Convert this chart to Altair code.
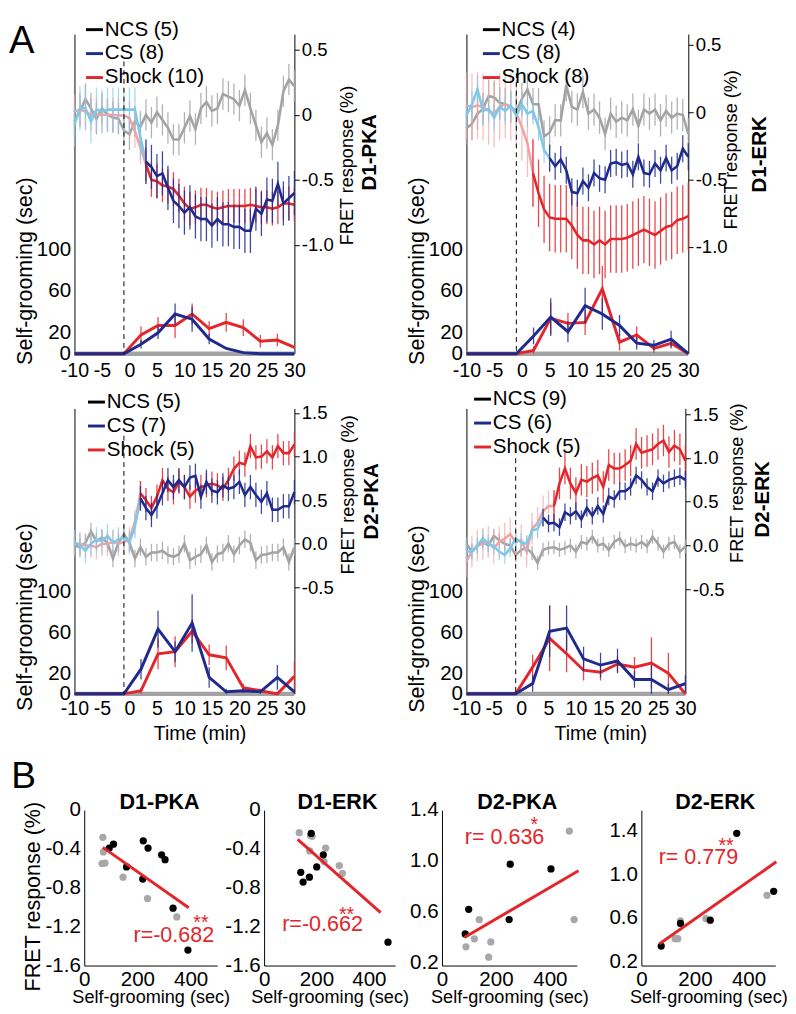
import altair as alt
import pandas as pd

FONT = "Liberation Sans"
GRAY = "#a3a3a3"
BLUE = "#1f2a8c"
RED = "#e3262b"
LBLUE = "#80c8ea"
PINK = "#f2a2a2"
DOT_GRAY = "#a8a8a8"

# ---------------- Panel A data ----------------
FRET_T = list(range(-10, 31))
SG_T = [-10, -5, -1, 2.1, 5.2, 8.3, 11.4, 14.5, 17.6, 20.7, 23.8, 26.9, 30]
STIM_T = -1
NCS_SG = [0, 0, 0, 0, 0, 0, 0, 0, 0, 0, 0, 0, 0]

D1PKA_NCS = [-0.05, 0.03, 0.12, 0.05, -0.03, 0.05, 0.0, -0.02, -0.03, -0.12, -0.15, -0.05, -0.09, 0.0,
             -0.06, 0.02, -0.04, -0.1, -0.19, -0.19, -0.1, -0.01, -0.11, 0.05, 0.1, 0.03, 0.05, 0.16,
             0.14, 0.12, 0.07, 0.19, 0.05, -0.08, -0.21, -0.14, -0.23, -0.08, 0.18, 0.27, 0.22]
D1PKA_CS = [-0.075, 0.05, 0.05, -0.05, 0.04, 0.025, 0.04, 0.04, 0.04, 0.04, 0.04, 0.04, -0.175, -0.36,
            -0.4, -0.47, -0.45, -0.56, -0.66, -0.7, -0.75, -0.71, -0.78, -0.8, -0.8, -0.85, -0.8, -0.84,
            -0.84, -0.86, -0.86, -0.89, -0.89, -0.72, -0.76, -0.65, -0.66, -0.53, -0.68, -0.64, -0.6]
D1PKA_SHOCK = [0.025, 0.04, 0.025, 0.0, 0.0, 0.0, 0.0, 0.0, -0.005, -0.005, -0.025, -0.125, -0.25, -0.38,
               -0.5, -0.51, -0.54, -0.55, -0.57, -0.62, -0.68, -0.72, -0.71, -0.69, -0.69, -0.71, -0.72,
               -0.71, -0.7, -0.7, -0.7, -0.7, -0.69, -0.7, -0.71, -0.71, -0.72, -0.71, -0.68, -0.68, -0.69]

D1ERK_NCS = [-0.12, -0.085, -0.01, 0.025, 0.12, 0.11, 0.07, 0.06, 0.04, 0.01, 0.1, 0.17, 0.06, 0.06,
             -0.18, -0.15, -0.06, -0.06, 0.2, 0.04, 0.02, 0.15, -0.01, 0.02, -0.04, -0.16, -0.01, -0.07,
             -0.04, -0.06, 0.02, -0.1, 0.02, -0.01, 0.02, -0.06, 0.01, -0.04, -0.01, -0.02, -0.16]
D1ERK_CS = [-0.025, 0.06, 0.17, 0.01, 0.025, -0.04, 0.04, 0.01, 0.05, -0.025, 0.06, -0.01, 0.01, -0.11,
            -0.28, -0.34, -0.4, -0.35, -0.43, -0.59, -0.6, -0.51, -0.56, -0.45, -0.49, -0.5, -0.38, -0.37,
            -0.39, -0.38, -0.46, -0.33, -0.45, -0.46, -0.38, -0.43, -0.34, -0.43, -0.4, -0.27, -0.33]
D1ERK_SHOCK = [0.05, 0.04, 0.05, 0.04, 0.01, -0.01, 0.04, 0.06, 0.04, -0.01, -0.11, -0.23, -0.45, -0.6,
               -0.72, -0.78, -0.79, -0.79, -0.79, -0.84, -0.91, -0.95, -0.95, -0.98, -0.95, -0.98, -0.94,
               -0.94, -0.94, -0.93, -0.91, -0.89, -0.87, -0.89, -0.91, -0.88, -0.85, -0.84, -0.8, -0.79, -0.77]

D2PKA_NCS = [-0.02, -0.04, 0.01, 0.14, 0.03, 0.07, 0.01, -0.17, 0.01, 0.11, 0.01, -0.17, -0.04, -0.15,
             -0.1, -0.1, -0.08, -0.13, -0.15, -0.12, 0.0, -0.19, -0.15, -0.12, -0.02, -0.21, -0.12, -0.1,
             0.0, -0.12, -0.02, 0.05, 0.01, -0.19, -0.13, -0.12, -0.1, -0.1, -0.04, -0.21, -0.04]
D2PKA_CS = [0.015, -0.02, -0.08, 0.0, 0.05, 0.03, 0.09, 0.015, 0.05, 0.07, 0.015, 0.2, 0.52, 0.41, 0.33,
            0.43, 0.58, 0.73, 0.65, 0.73, 0.65, 0.76, 0.78, 0.54, 0.71, 0.61, 0.59, 0.67, 0.63, 0.65, 0.71,
            0.56, 0.65, 0.56, 0.48, 0.58, 0.39, 0.39, 0.43, 0.43, 0.59]
D2PKA_SHOCK = [0.0, 0.0, -0.02, -0.02, -0.04, 0.0, 0.0, 0.02, 0.0, 0.02, 0.05, 0.25, 0.58, 0.5, 0.41,
               0.54, 0.73, 0.63, 0.59, 0.71, 0.65, 0.54, 0.61, 0.65, 0.67, 0.69, 0.67, 0.63, 0.73, 0.86,
               0.93, 0.91, 1.12, 0.99, 1.0, 1.06, 0.99, 1.12, 1.04, 1.04, 1.14]

D2ERK_NCS = [0.02, -0.07, -0.01, 0.04, 0.0, 0.11, 0.06, 0.02, 0.0, -0.11, -0.05, -0.03, -0.09, -0.2,
             -0.05, -0.03, -0.02, -0.05, -0.03, 0.0, -0.07, 0.04, 0.02, 0.1, 0.0, 0.02, -0.05, 0.04, 0.08,
             -0.01, 0.02, 0.0, 0.04, -0.01, 0.1, 0.02, -0.07, 0.02, 0.04, -0.07, -0.01]
D2ERK_CS = [-0.07, -0.07, 0.0, 0.08, 0.02, -0.01, -0.07, -0.11, -0.03, 0.08, 0.04, 0.02, 0.17, 0.19,
            0.32, 0.25, 0.26, 0.21, 0.38, 0.34, 0.39, 0.3, 0.43, 0.34, 0.45, 0.36, 0.56, 0.53, 0.62, 0.62,
            0.67, 0.8, 0.75, 0.67, 0.62, 0.77, 0.71, 0.75, 0.77, 0.79, 0.75]
D2ERK_SHOCK = [-0.18, -0.07, 0.0, 0.02, 0.04, -0.03, 0.04, 0.08, 0.13, 0.04, 0.06, -0.07, 0.19, 0.26,
               0.39, 0.45, 0.45, 0.71, 0.88, 0.71, 0.6, 0.75, 0.73, 0.77, 0.8, 0.67, 0.92, 0.88, 0.88,
               0.92, 0.97, 1.16, 1.06, 1.08, 1.1, 1.16, 1.2, 1.07, 1.14, 1.1, 0.97]

D1PKA_SG_CS = [0, 0, 0, 9, 20, 38, 33, 14, 5, 1, 0, 0, 0]
D1PKA_SG_SHOCK = [0, 0, 0, 18, 27, 27, 38, 24, 30, 25, 12, 13, 6]
D1ERK_SG_CS = [0, 0, 0, 17, 35, 21, 46, 38, 27, 10, 8, 14, 0]
D1ERK_SG_SHOCK = [0, 0, 0, 3, 34, 29, 30, 62, 11, 18, 5, 10, 0]
D2PKA_SG_CS = [0, 0, 0, 24, 63, 41, 69, 16, 2, 3, 2, 16, 2]
D2PKA_SG_SHOCK = [0, 0, 0, 3, 39, 41, 61, 38, 35, 6, 3, 0, 17]
D2ERK_SG_CS = [0, 0, 0, 10, 61, 64, 34, 28, 32, 14, 14, 4, 10]
D2ERK_SG_SHOCK = [0, 0, 0, 26, 54, 39, 23, 21, 29, 26, 30, 20, 0]

D1PKA_SG_CS_ERR = [0, 0, 0, 4, 6, 10, 12, 5, 0, 0, 0, 0, 0]
D1PKA_SG_SHOCK_ERR = [0, 0, 0, 8, 8, 12, 10, 7, 9, 8, 6, 6, 0]
D1ERK_SG_CS_ERR = [0, 0, 0, 8, 18, 10, 17, 15, 10, 6, 5, 8, 0]
D1ERK_SG_SHOCK_ERR = [0, 0, 0, 4, 15, 10, 12, 22, 8, 8, 4, 5, 0]
D2PKA_SG_CS_ERR = [0, 0, 0, 10, 18, 10, 28, 10, 3, 2, 2, 12, 2]
D2PKA_SG_SHOCK_ERR = [0, 0, 0, 3, 15, 15, 12, 10, 12, 4, 2, 2, 15]
D2ERK_SG_CS_ERR = [0, 0, 0, 8, 25, 22, 12, 12, 12, 8, 14, 6, 8]
D2ERK_SG_SHOCK_ERR = [0, 0, 0, 12, 32, 18, 10, 8, 8, 10, 25, 20, 0]

# SEM of FRET traces (NCS, CS, Shock)
D1PKA_SEM = [0.12, 0.17, 0.13]
D1ERK_SEM = [0.12, 0.1, 0.25]
D2PKA_SEM = [0.1, 0.14, 0.14]
D2ERK_SEM = [0.08, 0.1, 0.18]

# ---------------- Panel B data ----------------
B1_GRAY_X = [70, 72, 67, 78, 146, 238, 348]
B1_GRAY_Y = [-0.28, -0.43, -0.55, -0.545, -0.69, -0.91, -1.10]
B1_BLACK_X = [110, 94, 159, 222, 240, 220, 291, 304, 334, 390]
B1_BLACK_Y = [-0.35, -0.39, -0.585, -0.316, -0.39, -0.71, -0.46, -0.51, -1.01, -1.44]
B1_FIT_X = [70, 393]
B1_FIT_Y = [-0.383, -1.005]

B2_GRAY_X = [134, 177, 183, 174, 235, 229, 287, 299]
B2_GRAY_Y = [-0.232, -0.26, -0.27, -0.42, -0.39, -0.53, -0.57, -0.65]
B2_BLACK_X = [180, 226, 201, 140, 149, 173, 473]
B2_BLACK_Y = [-0.24, -0.46, -0.585, -0.64, -0.74, -0.69, -1.36]
B2_FIT_X = [128, 445]
B2_FIT_Y = [-0.30, -1.055]

B3_GRAY_X = [472, 490, 138, 120, 89, 181, 173]
B3_GRAY_Y = [1.236, 0.541, 0.541, 0.39, 0.327, 0.365, 0.246]
B3_BLACK_X = [253, 404, 99, 86, 249]
B3_BLACK_Y = [0.976, 0.938, 0.622, 0.428, 0.541]
B3_FIT_X = [83, 506]
B3_FIT_Y = [0.40, 0.925]

B4_GRAY_X = [469, 241, 146, 136, 126]
B4_GRAY_Y = [0.808, 0.595, 0.574, 0.41, 0.41]
B4_BLACK_X = [356, 494, 257, 146, 74]
B4_BLACK_Y = [1.376, 0.844, 0.58, 0.55, 0.343]
B4_FIT_X = [68, 504]
B4_FIT_Y = [0.364, 1.115]


def lab_expr(zero_txt):
    return ("datum.value == 0 ? '" + zero_txt + "' : (datum.value < 0 ? '-' : '') + "
            "format(abs(datum.value), '.1f')")


def fret_frame(vals, sem, lo=None, hi=None):
    rows = []
    for t, v in zip(FRET_T, vals):
        if lo is not None and t < lo:
            continue
        if hi is not None and t > hi:
            continue
        rows.append({"t": t, "v": v, "lo": v - sem, "hi": v + sem})
    return pd.DataFrame(rows)


def sg_frame(vals, errs):
    return pd.DataFrame({"t": SG_T, "v": vals,
                         "lo": [max(0, v - e) for v, e in zip(vals, errs)],
                         "hi": [v + e for v, e in zip(vals, errs)],
                         "e": errs})


def top_panel(p):
    W, H = p["W"], p["H"]
    xkw = dict(values=list(range(-10, 31, 5)), domain=False, ticks=False, labelPadding=p["xlabpad"],
               labelExpr="(datum.value < 0 ? '-' : '') + abs(datum.value)",
               labelFontSize=20, labelOverlap=False, labelFlush=False, grid=False)
    if p.get("xtitle"):
        xkw.update(title=p["xtitle"], titleFontSize=20, titleX=p["xtx"], titleY=p["xty"],
                   titleBaseline="middle", titleAlign="center")
    else:
        xkw.update(title=None)
    x = alt.X("t:Q", scale=alt.Scale(domain=[-10, 30], nice=False, zero=False), axis=alt.Axis(**xkw))

    def fy(field):
        return alt.Y(field + ":Q", scale=alt.Scale(domain=p["fdom"], nice=False, zero=False),
                     axis=alt.Axis(orient="right", values=p["fticks"], labelExpr=lab_expr(p["fzero"]),
                                   title="FRET response (%)", titleAngle=270, titleX=p["ftx"],
                                   titleY=p["fty"], titleAlign="center", titleBaseline="middle",
                                   titleFontSize=18.5, labelFontSize=19, tickSize=5, labelPadding=2,
                                   grid=False))

    def sy(field):
        return alt.Y(field + ":Q", scale=alt.Scale(domain=[0, p["sgmax"]], nice=False, zero=False),
                     axis=alt.Axis(orient="left", values=[0, 20, 40, 60, 80, 100],
                                   labelExpr="datum.value == 40 || datum.value == 80 ? '' : datum.label",
                                   title="Self-grooming (sec)", titleAngle=270, titleX=-51,
                                   titleY=p["sgty"], titleAlign="center", titleBaseline="middle",
                                   titleFontSize=22, labelFontSize=21, ticks=False, labelPadding=4,
                                   grid=False))

    sem_n, sem_c, sem_s = p["sem"]
    fl = []

    def add_f(df, color, ecolor, eop=0.85):
        fl.append(alt.Chart(df).mark_rule(color=ecolor, strokeWidth=1.3, opacity=eop)
                  .encode(x=x, y=fy("lo"), y2="hi:Q"))
        fl.append(alt.Chart(df).mark_line(color=color, strokeWidth=2.6).encode(x=x, y=fy("v")))

    add_f(fret_frame(p["ncs"], sem_n), GRAY, GRAY)
    add_f(fret_frame(p["shock"], sem_s, hi=p["sh_sw"]), PINK, PINK, 0.7)
    add_f(fret_frame(p["cs"], sem_c, hi=p["cs_sw"]), LBLUE, LBLUE, 0.7)
    add_f(fret_frame(p["shock"], sem_s, lo=p["sh_sw"]), RED, RED)
    add_f(fret_frame(p["cs"], sem_c, lo=p["cs_sw"]), BLUE, BLUE)
    fret_group = alt.layer(*fl)

    sl = [alt.Chart(sg_frame(NCS_SG, NCS_SG)).mark_line(color=GRAY, strokeWidth=4.5)
          .encode(x=x, y=sy("v"))]
    for vals, errs, col in [(p["sg_sh"], p["sg_sh_e"], RED), (p["sg_cs"], p["sg_cs_e"], BLUE)]:
        df = sg_frame(vals, errs)
        sl.append(alt.Chart(df[df["e"] > 0]).mark_rule(color=col, strokeWidth=1.3, opacity=0.85)
                  .encode(x=x, y=sy("lo"), y2="hi:Q"))
        sl.append(alt.Chart(df).mark_line(color=col, strokeWidth=3).encode(x=x, y=sy("v")))
    sg_group = alt.layer(*sl)

    dash = (alt.Chart(pd.DataFrame({"t": [STIM_T]}))
            .mark_rule(color="black", strokeWidth=1, strokeDash=[5, 4])
            .encode(x=x, y=alt.value(p["dash_top"]), y2=alt.value(H)))

    leg = (alt.Chart(pd.DataFrame({"name": p["legend"], "t": [0, 0, 0]}))
           .transform_filter("false")
           .mark_line(strokeWidth=3)
           .encode(x=x, color=alt.Color("name:N",
                   scale=alt.Scale(domain=p["legend"], range=["black", BLUE, RED]),
                   legend=alt.Legend(orient="none", legendX=p["lx"] - 2, legendY=p["ly"], title=None,
                                     symbolType="stroke", symbolStrokeWidth=3, symbolSize=300,
                                     labelFontSize=21, rowPadding=2.5, labelOffset=0, padding=0,
                                     symbolOpacity=1))))

    name = (alt.Chart(pd.DataFrame({"s": [p["name"]]}))
            .mark_text(angle=270, fontWeight="bold", fontSize=21, align="center", baseline="middle",
                       color="black")
            .encode(text="s:N", x=alt.value(W + p["ndx"]), y=alt.value(p["ny"])))

    layers = [fret_group, sg_group, dash, leg, name]
    if p.get("letter"):
        layers.append(alt.Chart(pd.DataFrame({"s": [p["letter"]]}))
                      .mark_text(fontSize=39, align="center", baseline="alphabetic", color="black")
                      .encode(text="s:N", x=alt.value(-54), y=alt.value(19)))
    return alt.layer(*layers).resolve_scale(y="independent").properties(width=W, height=H)


def scatter_panel(b):
    H = 159
    pw = b["PW"]
    xoff = b.get("xoff", 0)
    W = b.get("W", pw + xoff)
    x = alt.X("x:Q", scale=alt.Scale(domain=[0, 500], nice=False, zero=False, range=[xoff, xoff + pw]),
              axis=alt.Axis(values=[0, 200, 400], title="Self-grooming (sec)", titleFontSize=18.5,
                            titleX=xoff + pw / 2, titleY=32, titleBaseline="middle", titleAlign="center",
                            labelFontSize=21, ticks=False,
                            labelPadding=3, labelFlush=False, labelOverlap=False, grid=False))
    ykw = dict(values=b["yticks"], labelExpr=lab_expr(b["yzero"]), labelFontSize=21, ticks=False,
               labelPadding=4, grid=False, labelOverlap=False, labelFlush=False)
    if xoff:
        ykw.update(offset=-xoff)
    if b.get("ytitle"):
        ykw.update(title="FRET response (%)", titleAngle=270, titleX=-53, titleY=88, titleAlign="center",
                   titleBaseline="middle", titleFontSize=22)
    else:
        ykw.update(title=None)
    y = alt.Y("y:Q", scale=alt.Scale(domain=b["ydom"], nice=False, zero=False), axis=alt.Axis(**ykw))

    gray = alt.Chart(pd.DataFrame({"x": b["gx"], "y": b["gy"]})).mark_circle(
        size=55, color=DOT_GRAY, opacity=1).encode(x=x, y=y)
    black = alt.Chart(pd.DataFrame({"x": b["bx"], "y": b["by"]})).mark_circle(
        size=55, color="black", opacity=1).encode(x=x, y=y)
    fit = alt.Chart(pd.DataFrame({"x": b["fx"], "y": b["fy"]})).mark_line(
        color=RED, strokeWidth=3).encode(x=x, y=y)
    rtxt = alt.Chart(pd.DataFrame({"x": [b["rt"][0]], "y": [b["rt"][1]], "s": [b["rtext"]]})).mark_text(
        color=RED, fontSize=22, align="center", baseline="middle").encode(x=x, y=y, text="s:N")
    star = alt.Chart(pd.DataFrame({"x": [b["st"][0]], "y": [b["st"][1]], "s": [b["stars"]]})).mark_text(
        color=RED, fontSize=20, align="center", baseline="middle").encode(x=x, y=y, text="s:N")
    title = (alt.Chart(pd.DataFrame({"s": [b["name"]]}))
             .mark_text(fontSize=22, fontWeight="bold", align="center", baseline="alphabetic",
                        color="black")
             .encode(text="s:N", x=alt.value(xoff + pw / 2 + b["tdx"]), y=alt.value(-1)))
    layers = [gray, black, fit, rtxt, star, title]
    if b.get("letter"):
        layers.append(alt.Chart(pd.DataFrame({"s": [b["letter"]]}))
                      .mark_text(fontSize=38, align="center", baseline="alphabetic", color="black")
                      .encode(text="s:N", x=alt.value(-52), y=alt.value(-23)))
    return alt.layer(*layers).properties(width=W, height=H)


P1 = dict(W=225, H=327, name="D1-PKA", legend=["NCS (5)", "CS (8)", "Shock (10)"],
          ncs=D1PKA_NCS, cs=D1PKA_CS, shock=D1PKA_SHOCK, cs_sw=3, sh_sw=3, sem=D1PKA_SEM,
          sg_cs=D1PKA_SG_CS, sg_sh=D1PKA_SG_SHOCK, sg_cs_e=D1PKA_SG_CS_ERR, sg_sh_e=D1PKA_SG_SHOCK_ERR,
          fdom=[-1.833, 0.62], fticks=[-1.0, -0.5, 0, 0.5], fzero="0", sgmax=306,
          ftx=53, fty=134, ndx=78, ny=121, lx=12, ly=-15, dash_top=28, sgty=242, xlabpad=7,
          letter="A")
P2 = dict(W=227, H=327, name="D1-ERK", legend=["NCS (4)", "CS (8)", "Shock (8)"],
          ncs=D1ERK_NCS, cs=D1ERK_CS, shock=D1ERK_SHOCK, cs_sw=5, sh_sw=2, sem=D1ERK_SEM,
          sg_cs=D1ERK_SG_CS, sg_sh=D1ERK_SG_SHOCK, sg_cs_e=D1ERK_SG_CS_ERR, sg_sh_e=D1ERK_SG_SHOCK_ERR,
          fdom=[-1.79, 0.58], fticks=[-1.0, -0.5, 0, 0.5], fzero="0", sgmax=306,
          ftx=43, fty=118, ndx=73, ny=123, lx=17, ly=-15, dash_top=40, sgty=242, xlabpad=7)
P3 = dict(W=225, H=292, name="D2-PKA", legend=["NCS (5)", "CS (7)", "Shock (5)"],
          ncs=D2PKA_NCS, cs=D2PKA_CS, shock=D2PKA_SHOCK, cs_sw=2, sh_sw=2, sem=D2PKA_SEM,
          sg_cs=D2PKA_SG_CS, sg_sh=D2PKA_SG_SHOCK, sg_cs_e=D2PKA_SG_CS_ERR, sg_sh_e=D2PKA_SG_SHOCK_ERR,
          fdom=[-1.723, 1.553], fticks=[-0.5, 0.0, 0.5, 1.0, 1.5], fzero="0.0", sgmax=278,
          ftx=54, fty=88, ndx=80, ny=95, lx=14, ly=-17, dash_top=28, sgty=213, xlabpad=5,
          xtitle="Time (min)", xtx=128, xty=41)
P4 = dict(W=224, H=292, name="D2-ERK", legend=["NCS (9)", "CS (6)", "Shock (5)"],
          ncs=D2ERK_NCS, cs=D2ERK_CS, shock=D2ERK_SHOCK, cs_sw=4, sh_sw=6, sem=D2ERK_SEM,
          sg_cs=D2ERK_SG_CS, sg_sh=D2ERK_SG_SHOCK, sg_cs_e=D2ERK_SG_CS_ERR, sg_sh_e=D2ERK_SG_SHOCK_ERR,
          fdom=[-1.696, 1.567], fticks=[-0.5, 0.0, 0.5, 1.0, 1.5], fzero="0.0", sgmax=278,
          ftx=52, fty=76, ndx=80, ny=93, lx=8, ly=-20, dash_top=51, sgty=215, xlabpad=5,
          xtitle="Time (min)", xtx=137, xty=41)

B1 = dict(PW=136, xoff=10, name="D1-PKA", gx=B1_GRAY_X, gy=B1_GRAY_Y, bx=B1_BLACK_X, by=B1_BLACK_Y,
          fx=B1_FIT_X, fy=B1_FIT_Y, ydom=[-1.6, 0], yticks=[-1.6, -1.2, -0.8, -0.4, 0], yzero="0",
          rtext="r=-0.682", rt=(337, -1.29), stars="**", st=(439, -1.16), ytitle=True, tdx=9,
          letter="B")
B2 = dict(PW=134, name="D1-ERK", gx=B2_GRAY_X, gy=B2_GRAY_Y, bx=B2_BLACK_X, by=B2_BLACK_Y,
          fx=B2_FIT_X, fy=B2_FIT_Y, ydom=[-1.6, 0], yticks=[-1.6, -1.2, -0.8, -0.4, 0], yzero="0",
          rtext="r=-0.662", rt=(223, -1.17), stars="**", st=(315, -1.08), tdx=8)
B3 = dict(W=156, PW=138, name="D2-PKA", gx=B3_GRAY_X, gy=B3_GRAY_Y, bx=B3_BLACK_X, by=B3_BLACK_Y,
          fx=B3_FIT_X, fy=B3_FIT_Y, ydom=[0.18, 1.4], yticks=[0.2, 0.6, 1.0, 1.4], yzero="0.0",
          rtext="r= 0.636", rt=(232, 1.185), stars="*", st=(342, 1.28), tdx=8)
B4 = dict(PW=137, name="D2-ERK", gx=B4_GRAY_X, gy=B4_GRAY_Y, bx=B4_BLACK_X, by=B4_BLACK_Y,
          fx=B4_FIT_X, fy=B4_FIT_Y, ydom=[0.164, 1.588], yticks=[0.2, 0.6, 1.0, 1.4], yzero="0.0",
          rtext="r= 0.779", rt=(213, 1.158), stars="**", st=(316, 1.255), tdx=7)

top = (alt.concat(top_panel(P1), top_panel(P2), top_panel(P3), top_panel(P4), columns=2,
                  spacing={"row": 56, "column": 176}, bounds="flush")
       .resolve_scale(color="independent"))
brow = alt.hconcat(scatter_panel(B1), scatter_panel(B2), scatter_panel(B3), scatter_panel(B4),
                   spacing=48, bounds="flush")

chart = (alt.vconcat(top, brow, spacing=15)
         .resolve_scale(color="independent")
         .properties(padding={"left": 0, "top": 0, "right": 0, "bottom": 0})
         .configure(font=FONT, padding=0)
         .configure_view(stroke=None)
         .configure_axis(labelFont=FONT, titleFont=FONT, labelColor="black", titleColor="black",
                         domainColor="black", tickColor="black", titleFontWeight="normal", grid=False)
         .configure_legend(labelFont=FONT, labelColor="black")
         .configure_title(font=FONT, color="black")
         .configure_text(font=FONT))

chart.save("out.html", embed_options={"renderer": "svg", "actions": False})
